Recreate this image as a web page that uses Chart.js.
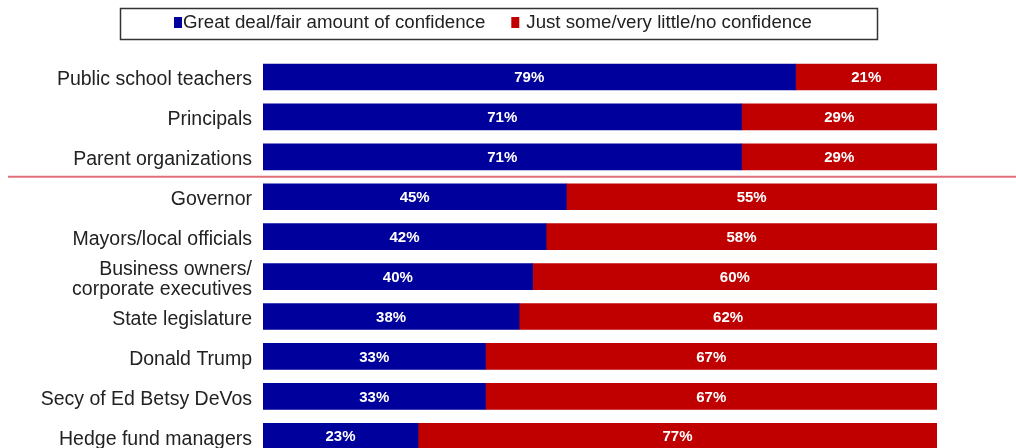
<!DOCTYPE html>
<html>
<head>
<meta charset="utf-8">
<script src="https://cdn.jsdelivr.net/npm/chart.js@4/dist/chart.umd.min.js"></script>
<style>
    html, body { margin: 0; padding: 0; background: #fff; overflow: hidden; }
    canvas { display: block; }
</style>
</head>
<body>
<canvas id="confChart" width="1016" height="477"></canvas>
<script>
const categories = [
    "Public school teachers",
    "Principals",
    "Parent organizations",
    "Governor",
    "Mayors/local officials",
    ["Business owners/", "corporate executives"],
    "State legislature",
    "Donald Trump",
    "Secy of Ed Betsy DeVos",
    "Hedge fund managers",
];
const confidentValues = [79, 71, 71, 45, 42, 40, 38, 33, 33, 23];
const notConfidentValues = [21, 29, 29, 55, 58, 60, 62, 67, 67, 77];
const seriesNames = ["Great deal/fair amount of confidence", "Just some/very little/no confidence"];
const separatorAfter = 2; // line drawn below "Parent organizations"

const FONT = '"Liberation Sans", Arial, sans-serif';
const BLUE = "#00009c";
const RED = "#c00000";

// white % labels in the middle of each segment
const segmentLabels = {
    id: "segmentLabels",
    afterDatasetsDraw(chart) {
        const ctx = chart.ctx;
        ctx.save();
        ctx.font = "bold 15px " + FONT;
        ctx.fillStyle = "#fff";
        ctx.textAlign = "center";
        ctx.textBaseline = "middle";
        chart.data.datasets.forEach((ds, i) => {
            chart.getDatasetMeta(i).data.forEach((bar, j) => {
                const mid = (bar.x + bar.base) / 2;
                ctx.fillText(ds.data[j] + "%", mid, bar.y + 1);
            });
        });
        ctx.restore();
    },
};

// boxed legend + red separator line
const extras = {
    id: "extras",
    afterDraw(chart) {
        const ctx = chart.ctx;
        const yScale = chart.scales.y;
        ctx.save();

        const lineY = (yScale.getPixelForValue(separatorAfter) + yScale.getPixelForValue(separatorAfter + 1)) / 2;
        ctx.strokeStyle = "#e07078";
        ctx.lineWidth = 2;
        ctx.beginPath();
        ctx.moveTo(8, lineY);
        ctx.lineTo(chart.width, lineY);
        ctx.stroke();

        ctx.strokeStyle = "#333";
        ctx.lineWidth = 1.5;
        ctx.strokeRect(120.5, 8.5, 757, 31);

        ctx.font = "18.7px " + FONT;
        ctx.textBaseline = "middle";
        ctx.textAlign = "left";
        let x = 174;
        chart.data.datasets.forEach((ds, i) => {
            ctx.fillStyle = ds.backgroundColor;
            ctx.fillRect(x, 17, 8, 11);
            ctx.fillStyle = "#222";
            const gap = i === 0 ? 9 : 15;
            ctx.fillText(ds.label, x + gap, 23);
            x += gap + ctx.measureText(ds.label).width + 26;
        });
        ctx.restore();
    },
};

new Chart(document.getElementById("confChart"), {
    type: "bar",
    data: {
        labels: categories,
        datasets: [
            { label: seriesNames[0], data: confidentValues, backgroundColor: BLUE },
            { label: seriesNames[1], data: notConfidentValues, backgroundColor: RED },
        ],
    },
    options: {
        indexAxis: "y",
        responsive: false,
        animation: false,
        events: [],
        barThickness: 26,
        layout: { padding: { top: 57, right: 79, bottom: 0, left: 0 } },
        plugins: {
            legend: { display: false },
            tooltip: { enabled: false },
        },
        scales: {
            x: {
                stacked: true,
                display: false,
                min: 0,
                max: 100,
            },
            y: {
                stacked: true,
                grid: { display: false, drawTicks: false },
                border: { display: false },
                ticks: {
                    autoSkip: false,
                    color: "#222",
                    padding: 11,
                    labelOffset: 3,
                    font: { family: FONT, size: 19.5, lineHeight: 1.0 },
                },
                afterFit(scale) {
                    scale.width = 263;
                },
            },
        },
    },
    plugins: [segmentLabels, extras],
});
</script>
</body>
</html>
